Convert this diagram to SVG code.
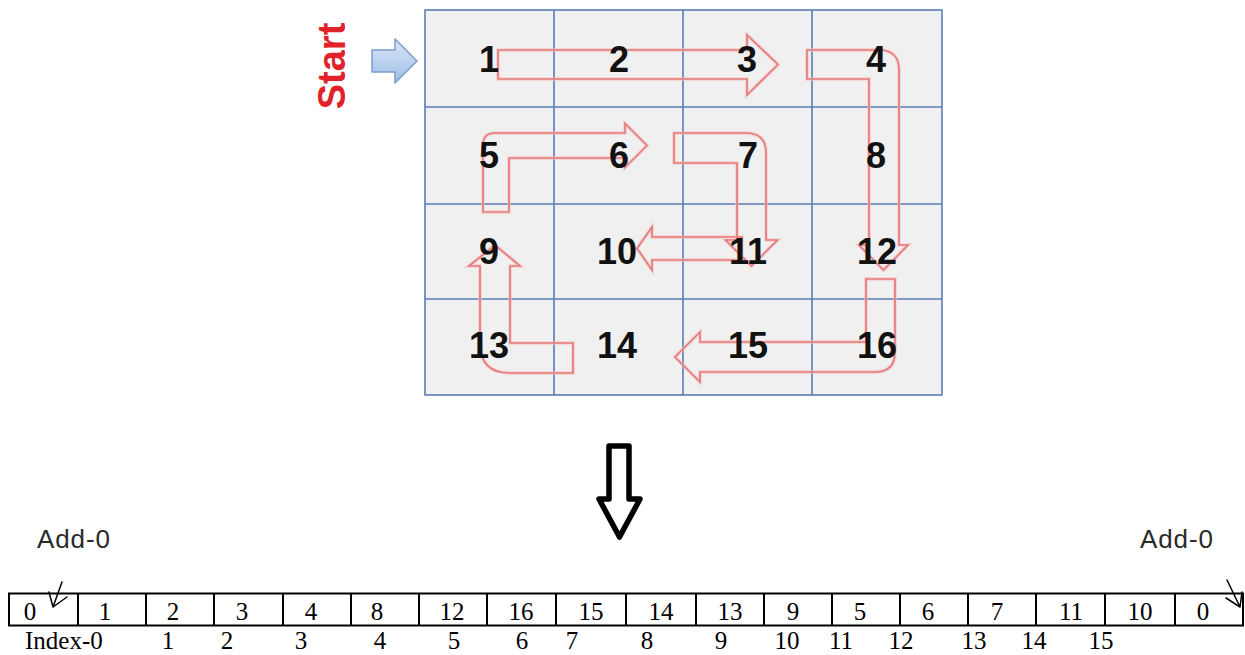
<svg xmlns="http://www.w3.org/2000/svg" width="1245" height="655" viewBox="0 0 1245 655">
<defs>
<linearGradient id="blueg" x1="0" y1="0" x2="0" y2="1">
<stop offset="0" stop-color="#dbe7f6"/>
<stop offset="1" stop-color="#9dbde6"/>
</linearGradient>
</defs>
<style>
.gl{stroke:#5b7db4;stroke-width:1.6;fill:none}
.num{font-family:"Liberation Sans",Arial,sans-serif;font-weight:bold;font-size:36px;fill:#111;text-anchor:middle}
.rd{fill:none;stroke:#e6797b;stroke-width:1.7;stroke-linejoin:miter}
.rdg{fill:none;stroke:#f6c4c4;stroke-width:4;opacity:0.55}
.cell{fill:none;stroke:#000;stroke-width:2}
.val{font-family:"Liberation Serif","Times New Roman",serif;font-size:25px;fill:#000;text-anchor:middle}
.add{font-family:"Liberation Sans",Arial,sans-serif;font-size:26px;fill:#2a2a2a}
.thin{fill:none;stroke:#000;stroke-width:1.5;stroke-linecap:round;stroke-linejoin:round}
</style>
<rect width="1245" height="655" fill="#fff"/>

<g id="grid">
<rect x="425" y="10" width="517" height="385" fill="#f0f0f0"/>
<rect class="gl" x="425" y="10" width="517" height="385"/>
<path class="gl" d="M554,10V395M683,10V395M812,10V395M425,107H942M425,204H942M425,299H942"/>
</g>

<g id="connectors">
<g class="rdg">
<path d="M498,50H747V35L778,64.5L747,95V79H498Z"/>
<path d="M807,50H879Q899,50 899,70V245H908L883.5,270L859,245H869V79H807Z"/>
<path d="M483,212V145Q483,133 495,133H625V123.5L647,145.5L625,167.5V158H509V212Z"/>
<path d="M674,133H746Q766,133 766,153V240H777.5L751.5,266L725.5,240H737V163H674Z"/>
<path d="M742,237H652V227L637,248.5L652,270V260H742Z"/>
<path d="M866,279H895V352Q895,372 875,372H700V382L675,357L700,332V342H866Z"/>
<path d="M573,343V373H510Q480,373 480,343V266H469L495,245L520,266H510V343Z"/>
</g>
<g class="rd">
<path d="M498,50H747V35L778,64.5L747,95V79H498Z"/>
<path d="M807,50H879Q899,50 899,70V245H908L883.5,270L859,245H869V79H807Z"/>
<path d="M483,212V145Q483,133 495,133H625V123.5L647,145.5L625,167.5V158H509V212Z"/>
<path d="M674,133H746Q766,133 766,153V240H777.5L751.5,266L725.5,240H737V163H674Z"/>
<path d="M742,237H652V227L637,248.5L652,270V260H742Z"/>
<path d="M866,279H895V352Q895,372 875,372H700V382L675,357L700,332V342H866Z"/>
<path d="M573,343V373H510Q480,373 480,343V266H469L495,245L520,266H510V343Z"/>
</g>
</g>

<g id="numbers">
<text class="num" x="489" y="72">1</text>
<text class="num" x="619" y="72">2</text>
<text class="num" x="747" y="72">3</text>
<text class="num" x="876" y="72">4</text>
<text class="num" x="489" y="168">5</text>
<text class="num" x="619" y="168">6</text>
<text class="num" x="748" y="168">7</text>
<text class="num" x="876" y="168">8</text>
<text class="num" x="489" y="264">9</text>
<text class="num" x="617" y="264">10</text>
<text class="num" x="748" y="264">11</text>
<text class="num" x="877" y="264">12</text>
<text class="num" x="489" y="358">13</text>
<text class="num" x="617" y="358">14</text>
<text class="num" x="748" y="358">15</text>
<text class="num" x="877" y="358">16</text>
</g>

<g id="start">
<text transform="translate(345,66) rotate(-90)" text-anchor="middle" font-family="'Liberation Sans',Arial,sans-serif" font-weight="bold" font-size="38" fill="#e2222a">Start</text>
<path d="M372,50H395V39L417,61L395,83V72H372Z" fill="url(#blueg)" stroke="#7b9cc8" stroke-width="1.5" stroke-linejoin="round"/>
</g>

<g id="down-arrow">
<path d="M609,446H629V499H640L619.5,537L599,499H609Z" fill="#fff" stroke="#000" stroke-width="5.5" stroke-linejoin="round"/>
</g>

<g id="add-labels">
<text class="add" x="37" y="548" textLength="73">Add-0</text>
<text class="add" x="1140" y="548" textLength="73">Add-0</text>
<path class="thin" d="M62,582L53,607M49,592L53,607L67,597"/>
<path class="thin" d="M1227,580L1240,607M1226,598L1240,607L1242,592"/>
</g>

<g id="array">
<rect class="cell" x="9" y="593.5" width="1234" height="32"/>
<path class="cell" d="M78,593.5V625.5M146,593.5V625.5M214,593.5V625.5M283,593.5V625.5M351,593.5V625.5M419,593.5V625.5M487,593.5V625.5M556,593.5V625.5M626,593.5V625.5M696,593.5V625.5M764,593.5V625.5M832,593.5V625.5M900,593.5V625.5M968,593.5V625.5M1036,593.5V625.5M1105,593.5V625.5M1175,593.5V625.5"/>
<text class="val" x="30" y="620">0</text>
<text class="val" x="105" y="620">1</text>
<text class="val" x="173" y="620">2</text>
<text class="val" x="242" y="620">3</text>
<text class="val" x="311" y="620">4</text>
<text class="val" x="377" y="620">8</text>
<text class="val" x="452" y="620">12</text>
<text class="val" x="521" y="620">16</text>
<text class="val" x="591" y="620">15</text>
<text class="val" x="661" y="620">14</text>
<text class="val" x="730" y="620">13</text>
<text class="val" x="793" y="620">9</text>
<text class="val" x="860" y="620">5</text>
<text class="val" x="928" y="620">6</text>
<text class="val" x="997" y="620">7</text>
<text class="val" x="1071" y="620">11</text>
<text class="val" x="1140" y="620">10</text>
<text class="val" x="1203" y="620">0</text>
</g>

<g id="index">
<text class="val" x="25" y="649" style="text-anchor:start">Index-0</text>
<text class="val" x="168" y="649">1</text>
<text class="val" x="227" y="649">2</text>
<text class="val" x="301" y="649">3</text>
<text class="val" x="380" y="649">4</text>
<text class="val" x="454" y="649">5</text>
<text class="val" x="522" y="649">6</text>
<text class="val" x="572" y="649">7</text>
<text class="val" x="647" y="649">8</text>
<text class="val" x="721" y="649">9</text>
<text class="val" x="787" y="649">10</text>
<text class="val" x="841" y="649">11</text>
<text class="val" x="901" y="649">12</text>
<text class="val" x="974" y="649">13</text>
<text class="val" x="1034" y="649">14</text>
<text class="val" x="1101" y="649">15</text>
</g>
</svg>
